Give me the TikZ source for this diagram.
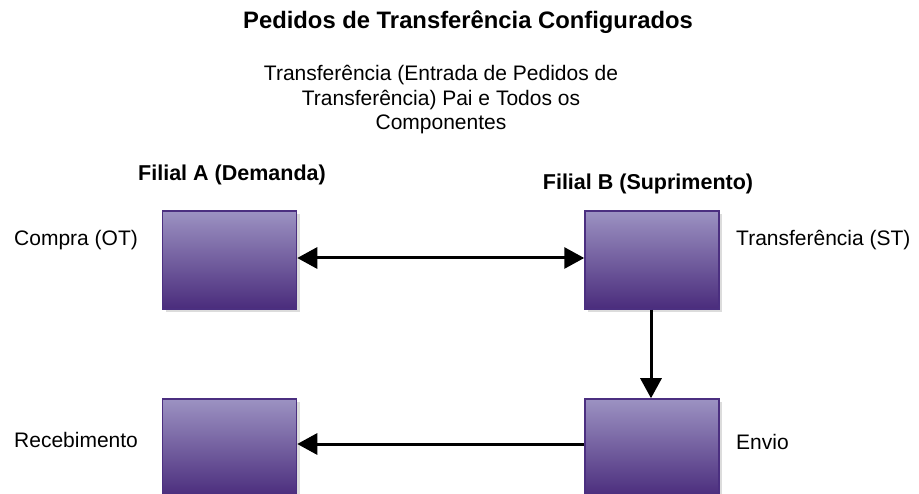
\documentclass[tikz,border=0pt]{standalone}
\usepackage{fontspec}
\setmainfont{Liberation Sans}
\usetikzlibrary{arrows.meta,shadows}
\definecolor{boxtop}{HTML}{9C92C2}
\definecolor{boxbot}{HTML}{4A2C7C}
\definecolor{boxline}{HTML}{4B2F80}
\definecolor{shade}{HTML}{DCDCDC}
\tikzset{
  procbox/.style={draw=boxline, line width=1.5pt, top color=boxtop, bottom color=boxbot,
    minimum width=134pt, minimum height=98pt, inner sep=0pt,
    drop shadow={shadow xshift=3pt, shadow yshift=-3pt, fill=shade, opacity=1}},
  lbl/.style={font=\fontsize{21}{24}\selectfont, anchor=west, inner sep=0pt},
  hdr/.style={font=\fontsize{21.5}{24}\selectfont\bfseries, inner sep=0pt},
  conn/.style={line width=3pt, -{Triangle[length=20pt,width=21pt]}},
  conn2/.style={line width=3pt, {Triangle[length=20pt,width=21pt]}-{Triangle[length=20pt,width=21pt]}}
}
\begin{document}
\begin{tikzpicture}[x=1pt,y=-1pt]
\useasboundingbox (0,0) rectangle (919,494);
\begin{scope}
\clip (0,0) rectangle (919,494);
\node[font=\fontsize{23.8}{26}\selectfont\bfseries, inner sep=0pt] (title) at (468,22) {Pedidos de Transferência Configurados};
\node[font=\fontsize{21}{24.5}\selectfont, align=center, inner sep=0pt] (sub) at (441,100)
  {Transferência (Entrada de Pedidos de\\Transferência) Pai e Todos os\\Componentes};
\node[hdr] (fa) at (232,175) {Filial A (Demanda)};
\node[hdr] (fb) at (648,184) {Filial B (Suprimento)};
\node[procbox] (a1) at (229.5,260) {};
\node[procbox] (b1) at (652,260) {};
\node[procbox] (a2) at (229.5,448) {};
\node[procbox] (b2) at (652,448) {};
\node[lbl] (la1) at (14,240) {Compra (OT)};
\node[lbl] (lb1) at (736,240) {Transferência (ST)};
\node[lbl] (la2) at (14,440) {Recebimento};
\node[lbl] (lb2) at (736,442) {Envio};
\draw[conn2] ([yshift=2pt]a1.east) -- ([yshift=2pt]b1.west);
\draw[conn] ([xshift=-1pt]b1.south) -- ([xshift=-1pt]b2.north);
\draw[conn] ([yshift=4pt]b2.west) -- ([yshift=4pt]a2.east);
\end{scope}
\end{tikzpicture}
\end{document}
